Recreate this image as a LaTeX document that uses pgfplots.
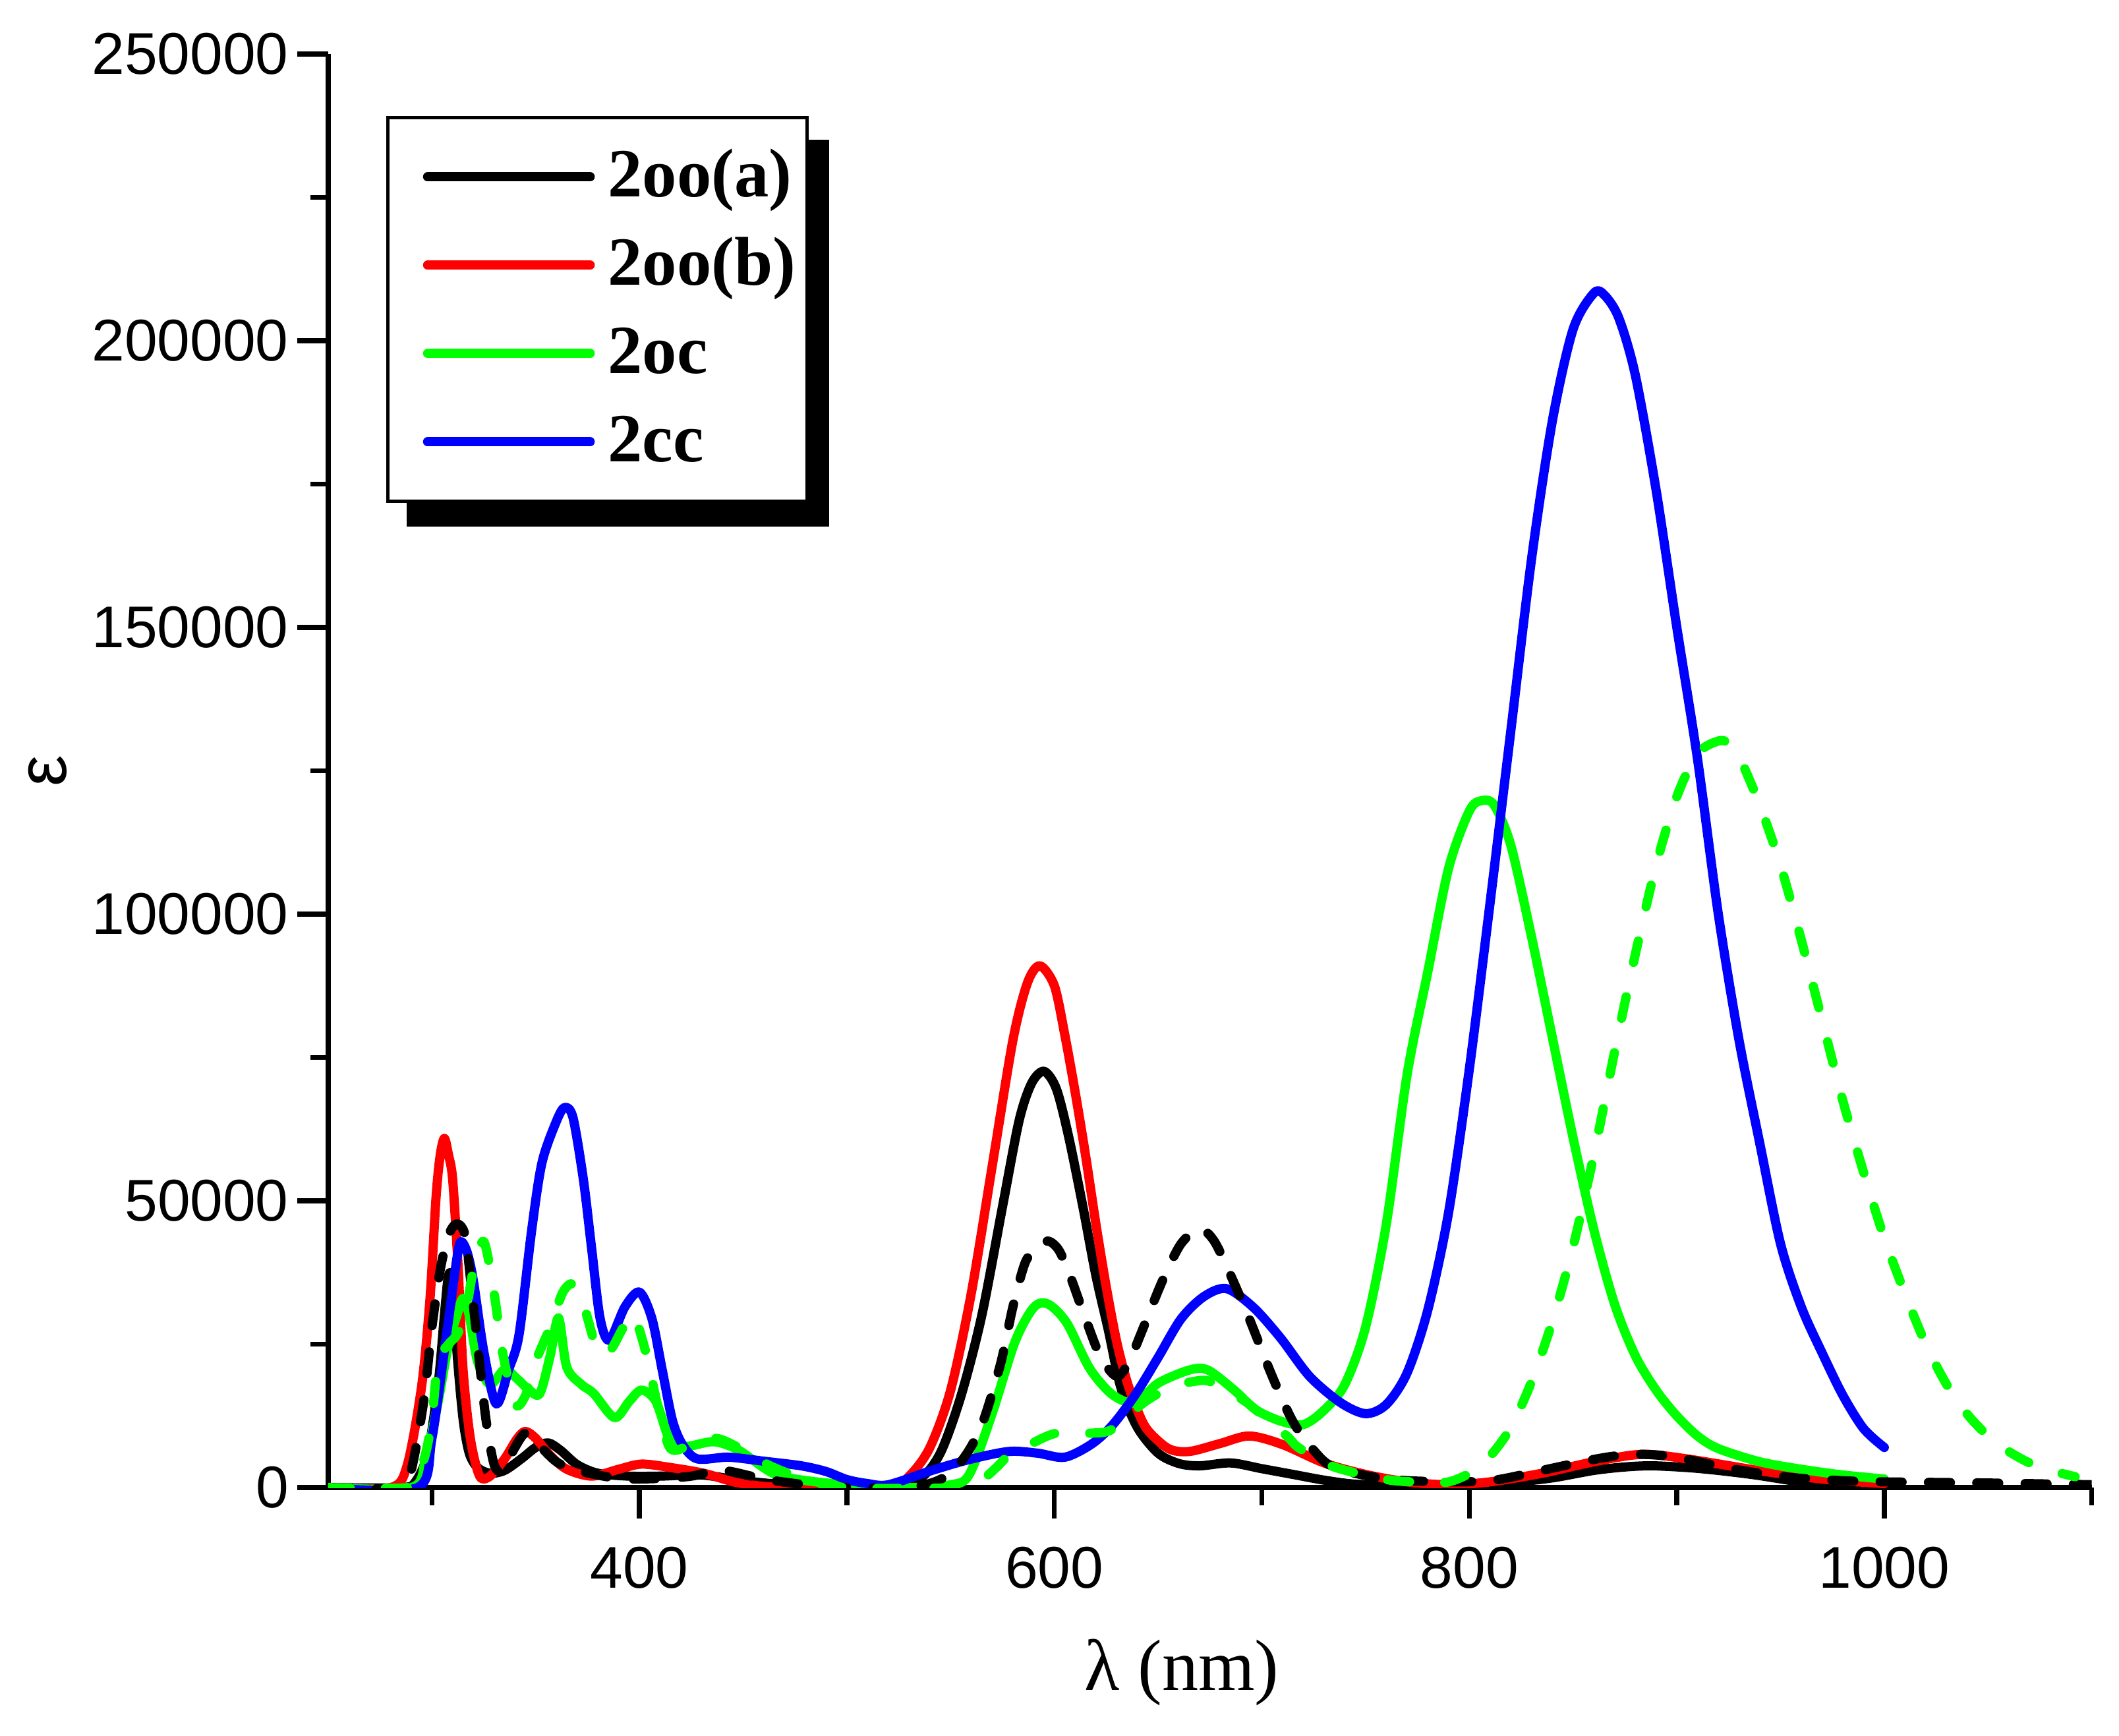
\documentclass[border=0pt]{standalone}
\usepackage{fontspec}
\setmainfont{Liberation Serif}
\setsansfont{Liberation Sans}
\usepackage{pgfplots}
\pgfplotsset{compat=1.18}
\pgfdeclarelayer{background}
\pgfsetlayers{background,main}

\begin{document}
\begin{tikzpicture}
\begin{axis}[
  scale only axis,
  width=401.4pt, height=326.3pt,
  xmin=250, xmax=1100, ymin=0, ymax=250000,
  axis lines=left,
  axis line style={-, line width=1.1pt},
  tick align=outside,
  tick style={black, line width=1.1pt},
  major tick length=7pt, minor tick length=4pt,
  xtick={400,600,800,1000}, minor xtick={300,500,700,900,1100},
  ytick={0,50000,100000,150000,200000,250000},
  minor ytick={25000,75000,125000,175000,225000},
  scaled y ticks=false,
  /pgf/number format/.cd, fixed, 1000 sep={}, assume math mode=true, /pgfplots/.cd,
  tick label style={font=\fontsize{13.4}{15}\selectfont\sffamily},
  xticklabel style={yshift=-3pt},
  yticklabel style={xshift=1.5pt},
  xlabel={λ (nm)},
  ylabel={ε},
  xlabel style={font=\fontsize{16.5}{19}\selectfont, at={(axis description cs:0.484,-0.129)}, anchor=center},
  ylabel style={font=\fontsize{16}{18}\selectfont\sffamily, at={(axis description cs:-0.159,0.5)}, anchor=center},
  legend cell align=left,
  legend style={name=leg, at={(axis description cs:0.0329,0.9568)}, anchor=north west,
    draw=black, line width=0.75pt, fill=white,
    font=\fontsize{15.7}{18}\selectfont\bfseries,
    inner xsep=1.6pt, inner ysep=5pt, row sep=3.1pt, column sep=2pt,
    nodes={inner sep=1pt, text height=12pt, text depth=3pt}},
  legend image code/.code={\path (0pt,0pt); \draw[#1, solid] (6.4pt,0pt) -- (43.4pt,0pt);},
  every axis plot/.append style={line width=2.1pt, line cap=round, line join=round, smooth, tension=0.5},
]

% 2oo(a)
\addplot[black] coordinates {
(250,0) (285,0) (292,1000) (298,6000) (303,18000) (306,30000) (308,37000) (310,36000)
(312,24000) (315,12000) (318,6000) (322,3500) (328,2500) (335,3000) (343,5000) (350,7000)
(356,7800) (362,6500) (370,4000) (380,2500) (395,2000) (410,2000) (430,2200) (450,1200)
(470,500) (495,0) (520,0) (535,1500) (545,6000) (555,16000) (565,30000) (575,49000)
(583,64000) (589,70500) (595,72600) (601,69500) (607,61000) (614,48500) (620,37000)
(626,27500) (632,17500) (640,10500) (650,6000) (660,4200) (670,3800) (685,4300)
(700,3300) (715,2300) (730,1300) (745,600) (770,300) (800,500) (820,900) (840,1700)
(860,3000) (875,3600) (888,3800) (905,3500) (920,3000) (938,2200) (960,1000)
(980,500) (1000,300)
};
\addlegendentry{2oo(a)}

% 2oo(b)
\addplot[red] coordinates {
(250,0) (280,0) (288,3800) (295,17600) (299,32600) (302,50700) (304,58000) (306,60900)
(308,58000) (310,53700) (312.6,38600) (315,20600) (318.5,8600) (323,2000) (328,2000)
(335,5000) (341,8500) (345,9800) (350,8600) (357,5600) (365,3200) (377,2000) (390,3200)
(401,4100) (415,3500) (431,2500) (448,800) (470,0) (520,0) (530,2000) (540,7000)
(550,17000) (560,34000) (570,56000) (580,78000) (587,88000) (593,91000) (600,87500)
(605,79000) (610,69000) (615,58000) (620,46000) (625,35000) (630,25500) (635,18500)
(640,13500) (645,10000) (655,6800) (665,6300) (680,7700) (694,9000) (710,7500)
(730,4300) (750,2300) (770,1000) (790,500) (810,1000) (835,2500) (860,4500) (883,5800)
(905,5000) (939,3000) (970,1500) (1000,700)
};
\addlegendentry{2oo(b)}

% 2oc
\addplot[green] coordinates {
(250,0) (290,0) (297,5000) (303,15000) (308,25000) (312,30000) (315,33000) (318,30000)
(322,22000) (328,18000) (335,20600) (341,19000) (347,17000) (352,16400) (357,23000)
(361,29600) (365,21000) (372,18000) (378,16400) (388,12200) (395,15000) (401,17000)
(408,15000) (415,8000) (423,7200) (436,8000) (448,6500) (465,2400) (485,1000) (510,300)
(530,0) (550,500) (559,2300) (570,12900) (581,25400) (590,31400) (597,32000) (606,28700)
(617,20800) (628,16200) (639,14800) (650,18200) (665,20500) (674,20500) (687,16900)
(697,13600) (709,11600) (720,11000) (730,13500) (740,18000) (750,28000) (760,46000)
(770,72000) (780,90000) (790,108000) (800,118000) (806,119800) (812,119000)
(820,112000) (830,96000) (840,78500) (850,61000) (860,45000) (870,32000) (880,23000)
(890,17000) (900,12500) (910,9000) (920,6800) (940,4500) (960,3200) (980,2200)
(1000,1500)
};
\addlegendentry{2oc}

% 2cc
\addplot[blue] coordinates {
(250,0) (293,0) (300,8600) (307,26600) (312,39900) (314,42900) (317,41000) (320,36000)
(325,23700) (331,14600) (337,20600) (342,26700) (348,44700) (353,56600) (360,63900)
(364,66300) (368,64500) (373,53700) (377,41600) (381,29600) (385.5,25700) (393,31500)
(400,34100) (406,29500) (411,20500) (416,11600) (421,7350) (428,5000) (443,5300)
(460,4600) (478,3800) (490,2800) (500,1400) (510,700) (520,500) (541,3000) (559,4900)
(578,6300) (592,6000) (605,5300) (618,7600) (628,10900) (639,16200) (650,22700)
(661,29400) (672,33300) (683,34700) (696,31400) (709,26100) (723,19400) (738,14800)
(750,12900) (760,14500) (770,20000) (780,31000) (790,48000) (800,73000) (810,102000)
(820,132000) (830,162000) (840,186000) (850,202000) (860,208300) (865,208000)
(872,204000) (880,194000) (890,174000) (900,150000) (910,127000) (920,100000)
(930,78000) (940,60000) (950,42500) (960,31500) (970,23500) (980,16100) (990,10300)
(1000,7000)
};
\addlegendentry{2cc}

% dashed black
\addplot[black, dash pattern=on 5pt off 6pt, forget plot] coordinates {
(250,0) (285,0) (290,3000) (296,15000) (300,28000) (304,38000) (308,44000) (312,46000)
(316,44000) (319,35000) (322,25000) (326,12000) (330,4000) (334,3000) (340,7000)
(345,9500) (350,8000) (360,4500) (370,3000) (390,1600) (410,1600) (425,2000) (440,3000)
(460,1500) (480,500) (500,0) (530,0) (546,1600) (556,5000) (565,10900) (574,21500)
(580,31500) (586,39300) (592,42000) (597,43000) (602,41500) (607,37500) (614,30500)
(622,23000) (630,19400) (636,22000) (643,28000) (652,36000) (661,42500) (670,45100)
(677,43000) (685,37000) (694,29400) (705,19400) (715,11500) (725,6500) (735,3500)
(760,1500) (790,1000) (812,1300) (835,3000) (857,4700) (870,5500) (883,5800) (896,5500)
(908,4700) (928,3200) (954,1800) (980,1200) (1000,1000) (1050,800) (1100,500)
};

% dashed green
\addplot[green, dash pattern=on 5pt off 8pt, forget plot] coordinates {
(250,0) (288,0) (293,2000) (297,6000) (300,12000) (303,22000) (308,25000) (312,26600)
(316,30000) (320,38000) (325,42900) (330,33800) (334,23700) (340,14600) (345,16000)
(350,22000) (357,28000) (363,34000) (368,35500) (373,32000) (380,23700) (386,24000)
(392,27800) (397,30200) (403,23700) (409,14000) (415,6800) (425,7500) (436,8600)
(445,7500) (463,3800) (480,1500) (500,0) (550,0) (565,1500) (572,3500) (578,5600)
(588,7500) (601,9500) (618,9500) (628,10200) (643,14800) (656,17500) (667,18500)
(675,18500) (690,15500) (697,13600) (712,9000) (718,6900) (734,3700) (760,1400)
(780,900) (790,1000) (800,2500) (810,5500) (820,10500) (830,18500) (840,29000)
(850,42000) (860,58000) (870,76000) (880,93000) (890,108500) (900,120500) (910,128000)
(920,130200) (925,129800) (930,127500) (940,119000) (950,108500) (960,95500)
(970,81500) (980,67500) (990,55000) (1000,43500) (1010,33800) (1020,25000)
(1030,18000) (1040,12800) (1050,9000) (1060,6300) (1070,4300) (1080,3000) (1092,1900)
};
\end{axis}
\begin{pgfonlayer}{background}
\fill[black] ([xshift=4.6pt,yshift=-5.4pt]leg.south west) rectangle ([xshift=4.6pt,yshift=-5.4pt]leg.north east);
\end{pgfonlayer}
\pgfresetboundingbox
\path[use as bounding box] ([xshift=-74.7pt,yshift=-56.4pt]current axis.south west) rectangle ([xshift=6.2pt,yshift=12.3pt]current axis.north east);
\end{tikzpicture}
\end{document}
